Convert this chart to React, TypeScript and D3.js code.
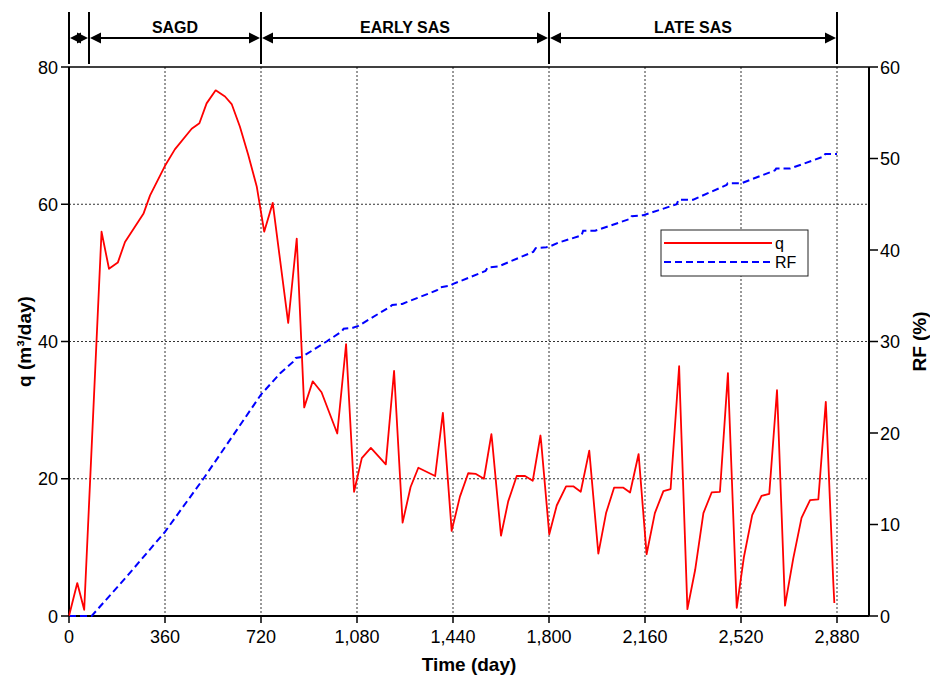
import React from "react";
import * as d3 from "d3";

// Production rate q (m³/day) over time
const qDays = [
  0, 31, 57, 122, 150, 183, 210, 279, 304, 360, 397, 460, 489, 516, 550, 585, 610, 641, 672, 704,
  732, 764, 822, 854, 882, 914, 947, 1006, 1039, 1069, 1098, 1132, 1188, 1219, 1251, 1281, 1310,
  1373, 1402, 1405, 1435, 1466, 1497, 1526, 1556, 1584, 1587, 1620, 1647, 1679, 1710, 1739, 1768,
  1771, 1801, 1829, 1864, 1891, 1919, 1951, 1985, 2014, 2044, 2079, 2104, 2136, 2166, 2197, 2229,
  2256, 2288, 2291, 2319, 2348, 2379, 2410, 2441, 2471, 2474, 2504, 2531, 2562, 2597, 2626, 2655,
  2658, 2685, 2716, 2747, 2779, 2810, 2838, 2841, 2866, 2870,
];
const qValues = [
  0, 4.8, 0.9, 56, 50.6, 51.5, 54.5, 58.6, 61.3, 65.6, 68, 71, 71.8, 74.7, 76.6, 75.7, 74.6, 71.3,
  67.2, 62.6, 56, 60.2, 42.7, 55, 30.4, 34.2, 32.6, 26.6, 39.6, 18.1, 23.0, 24.5, 22.1, 35.7, 13.6,
  18.8, 21.6, 20.4, 29.6, 28.1, 12.4, 17.4, 20.8, 20.7, 20.0, 26.5, 25.4, 11.7, 16.7, 20.4, 20.4,
  19.7, 26.3, 25.2, 11.9, 16.1, 18.9, 18.9, 18.1, 24.1, 9.1, 15.0, 18.7, 18.7, 18.0, 23.6, 9.0,
  15.0, 18.2, 18.5, 36.4, 32.7, 1.0, 6.7, 15.0, 18.0, 18.1, 35.4, 32.0, 1.2, 8.6, 14.7, 17.5, 17.8,
  32.9, 30.0, 1.5, 8.4, 14.3, 16.9, 17.0, 31.2, 28.6, 5.0, 1.9,
];

// Recovery factor RF (%) over time
const rfDays = [
  0, 85, 216, 360, 504, 720, 791, 841, 850, 873, 966, 1023, 1030, 1065, 1085, 1204, 1212, 1250,
  1266, 1380, 1388, 1430, 1441, 1562, 1570, 1610, 1741, 1750, 1790, 1804, 1835, 1922, 1928, 1973,
  2104, 2110, 2154, 2279, 2286, 2341, 2466, 2470, 2522, 2647, 2652, 2704, 2829, 2836, 2880,
];
const rfValues = [
  0, 0, 4.3, 9.2, 15.0, 24.2, 26.5, 27.8, 28.2, 28.3, 30.0, 31.1, 31.4, 31.5, 31.7, 33.8, 34.0,
  34.1, 34.3, 35.6, 35.9, 36.1, 36.3, 37.7, 38.1, 38.2, 39.8, 40.2, 40.3, 40.4, 40.8, 41.6, 42.1,
  42.1, 43.4, 43.7, 43.8, 45.0, 45.5, 45.5, 47.1, 47.3, 47.3, 48.7, 48.9, 48.9, 50.2, 50.5, 50.5,
];

// Axis ticks
const timeTicks = [0, 360, 720, 1080, 1440, 1800, 2160, 2520, 2880];
const qTicks = [0, 20, 40, 60, 80];
const rfTicks = [0, 10, 20, 30, 40, 50, 60];

// Process phases along the time axis
const phaseBounds = [0, 75, 720, 1800, 2880];
const phaseLabels = ["", "SAGD", "EARLY SAS", "LATE SAS"];

const W = 930;
const H = 679;
const M = { left: 69, right: 869, top: 67, bottom: 616 };
const FONT = "'Liberation Sans', Arial, Helvetica, sans-serif";

export default function App() {
  const x = d3.scaleLinear().domain([0, 3000]).range([M.left, M.right]);
  const yQ = d3.scaleLinear().domain([0, 80]).range([M.bottom, M.top]);
  const yRF = d3.scaleLinear().domain([0, 60]).range([M.bottom, M.top]);
  const fmt = d3.format(",");

  const qPts: [number, number][] = qDays.map((d, i) => [d, qValues[i]]);
  const rfPts: [number, number][] = rfDays.map((d, i) => [d, rfValues[i]]);
  const qLine = d3
    .line<[number, number]>()
    .x((p) => x(p[0]))
    .y((p) => yQ(p[1]));
  const rfLine = d3
    .line<[number, number]>()
    .x((p) => x(p[0]))
    .y((p) => yRF(p[1]));

  const gridStyle = { stroke: "#333", strokeWidth: 1, strokeDasharray: "2,2" };
  const arrowY = 38;
  const head = 11;
  const half = 5.5;

  return (
    <svg
      width={W}
      height={H}
      style={{ position: "absolute", left: 0, top: 0, background: "#fff" }}
      fontFamily={FONT}
    >
      <rect x={0} y={0} width={W} height={H} fill="#fff" />

      {/* grid */}
      {timeTicks
        .filter((t) => t > 0)
        .map((t) => (
          <line key={"gx" + t} x1={x(t)} x2={x(t)} y1={M.top} y2={M.bottom} {...gridStyle} />
        ))}
      {qTicks
        .filter((t) => t > 0 && t < 80)
        .map((t) => (
          <line key={"gy" + t} x1={M.left} x2={M.right} y1={yQ(t)} y2={yQ(t)} {...gridStyle} />
        ))}

      {/* frame */}
      <line x1={M.left} x2={M.right} y1={M.top} y2={M.top} stroke="#000" strokeWidth={1.5} />
      <line x1={M.right} x2={M.right} y1={M.top} y2={M.bottom} stroke="#000" strokeWidth={2} />
      <line x1={M.left} x2={M.left} y1={M.top} y2={M.bottom} stroke="#000" strokeWidth={2} />
      <line x1={M.left} x2={M.right} y1={M.bottom} y2={M.bottom} stroke="#000" strokeWidth={2} />

      {/* series */}
      <path d={rfLine(rfPts) || ""} fill="none" stroke="#0000ff" strokeWidth={2} strokeDasharray="7,4" />
      <path d={qLine(qPts) || ""} fill="none" stroke="#ff0000" strokeWidth={1.8} strokeLinejoin="round" />

      {/* bottom axis */}
      {timeTicks.map((t) => (
        <g key={"bx" + t}>
          <line x1={x(t)} x2={x(t)} y1={M.bottom} y2={M.bottom + 7} stroke="#000" strokeWidth={1.5} />
          <text x={x(t)} y={643} fontSize={18} textAnchor="middle" fill="#000">
            {fmt(t)}
          </text>
        </g>
      ))}
      <text x={469} y={671} fontSize={19} fontWeight="bold" textAnchor="middle" fill="#000">
        Time (day)
      </text>

      {/* left axis */}
      {qTicks.map((t) => (
        <g key={"ly" + t}>
          <line x1={M.left - 8} x2={M.left} y1={yQ(t)} y2={yQ(t)} stroke="#000" strokeWidth={1.5} />
          <text x={M.left - 11} y={yQ(t) + 6.5} fontSize={18} textAnchor="end" fill="#000">
            {t}
          </text>
        </g>
      ))}
      <text
        transform={`translate(31,${(M.top + M.bottom) / 2}) rotate(-90)`}
        fontSize={19}
        fontWeight="bold"
        textAnchor="middle"
        fill="#000"
      >
        q (m³/day)
      </text>

      {/* right axis */}
      {rfTicks.map((t) => (
        <g key={"ry" + t}>
          <line x1={M.right} x2={M.right + 9} y1={yRF(t)} y2={yRF(t)} stroke="#000" strokeWidth={1.5} />
          <text x={M.right + 11} y={yRF(t) + 6.5} fontSize={18} textAnchor="start" fill="#000">
            {t}
          </text>
        </g>
      ))}
      <text
        transform={`translate(926,${(M.top + M.bottom) / 2}) rotate(-90)`}
        fontSize={19}
        fontWeight="bold"
        textAnchor="middle"
        fill="#000"
      >
        RF (%)
      </text>

      {/* phase annotations */}
      {phaseBounds.map((b) => (
        <line key={"pb" + b} x1={x(b)} x2={x(b)} y1={12} y2={64} stroke="#000" strokeWidth={2} />
      ))}
      {phaseLabels.map((label, i) => {
        const l = x(phaseBounds[i]) + 1;
        const r = x(phaseBounds[i + 1]) - 1;
        return (
          <g key={"ph" + i}>
            <line x1={l + head - 1} x2={r - head + 1} y1={arrowY} y2={arrowY} stroke="#000" strokeWidth={2} />
            <polygon
              points={`${l},${arrowY} ${l + head},${arrowY - half} ${l + head},${arrowY + half}`}
              fill="#000"
            />
            <polygon
              points={`${r},${arrowY} ${r - head},${arrowY - half} ${r - head},${arrowY + half}`}
              fill="#000"
            />
            {label && (
              <text x={(l + r) / 2} y={33} fontSize={16} fontWeight="bold" textAnchor="middle" fill="#000">
                {label}
              </text>
            )}
          </g>
        );
      })}

      {/* legend */}
      <g>
        <rect x={661} y={230} width={147} height={46} fill="#fff" stroke="#222" strokeWidth={1} />
        <line x1={664} x2={772} y1={243} y2={243} stroke="#ff0000" strokeWidth={2} />
        <text x={775} y={249} fontSize={16} fill="#000">
          q
        </text>
        <line x1={664} x2={772} y1={262} y2={262} stroke="#0000ff" strokeWidth={2} strokeDasharray="7,4" />
        <text x={775} y={268} fontSize={16} fill="#000">
          RF
        </text>
      </g>
    </svg>
  );
}
